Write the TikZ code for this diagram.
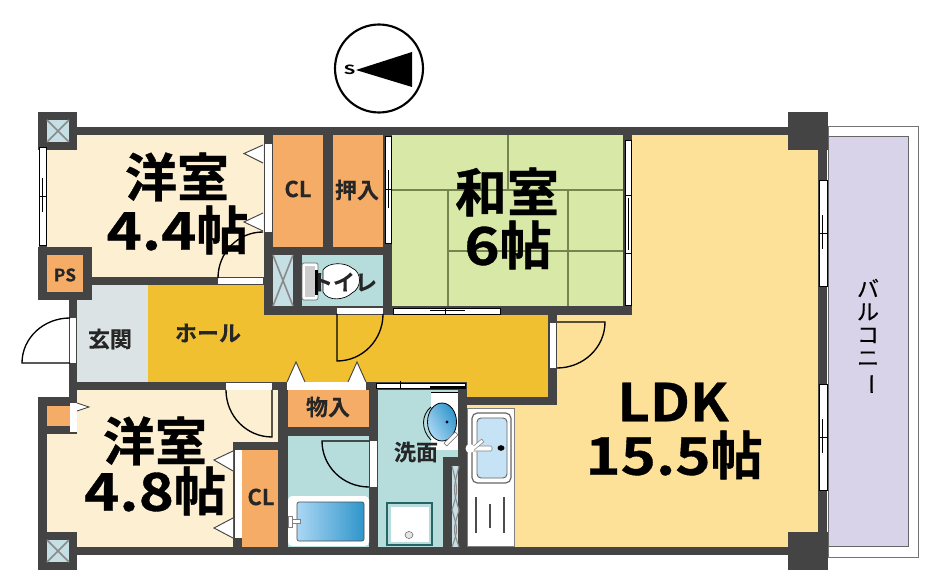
\documentclass[tikz,border=0pt]{standalone}
\usepackage{fontspec}
\usepackage{graphicx}
\setmainfont{Noto Sans CJK JP}[BoldFont={Noto Sans CJK JP Bold}]
\newfontfamily\heavy{Noto Sans CJK JP Bold}[FakeBold=0.7]
\newfontfamily\heavywide{Noto Sans CJK JP Bold}[FakeBold=0.7,FakeStretch=1.15]
\newfontfamily\heavymid{Noto Sans CJK JP Bold}[FakeBold=0.7,FakeStretch=1.08]
\newfontfamily\semi{Noto Sans CJK JP Bold}[FakeBold=0.15]
\newfontfamily\balfont{Noto Sans CJK JP}[FakeBold=0.3]
\definecolor{wallc}{HTML}{444444}
\definecolor{cream}{HTML}{FDEFD2}
\definecolor{closet}{HTML}{F5AC66}
\definecolor{tatami}{HTML}{D8E8A6}
\definecolor{tatline}{HTML}{75854F}
\definecolor{ldkc}{HTML}{FDE199}
\definecolor{hallc}{HTML}{F0C030}
\definecolor{entry}{HTML}{DBE3E5}
\definecolor{wetc}{HTML}{B6DCDC}
\definecolor{shaft}{HTML}{C5DFE5}
\definecolor{balc}{HTML}{D9D3E9}
\definecolor{sinkc}{HTML}{C6E3F6}
\definecolor{gradlight}{HTML}{ABD7F4}
\definecolor{graddark}{HTML}{2F95CA}
\definecolor{xline}{HTML}{8A8A8A}
\tikzset{
  wall/.style={fill=wallc},
  win/.style={fill=white,draw=black,line width=0.6pt},
  plainwin/.style={fill=white},
  swing/.style={draw=black,line width=1pt},
  tri/.style={fill=white,draw=wallc,line width=0.7pt},
  tat/.style={draw=tatline,line width=1.5pt},
  big/.style={font=\fontsize{39}{44}\selectfont\heavy,align=center,inner sep=0pt},
  mid/.style={font=\fontsize{16.5}{19}\selectfont\semi,text=black!85,inner sep=0pt},
  shaftx/.style={draw=xline,line width=1.2pt},
}
\begin{document}
\begin{tikzpicture}[x=0.75pt,y=-0.75pt]
\useasboundingbox (0,0) rectangle (931,580);
\fill[white] (0,0) rectangle (931,580);
% balcony
\draw[draw=black!55,fill=white,line width=0.7pt] (828,126) rectangle (918,557);
\draw[draw=black!60,fill=balc,line width=0.7pt] (828,136) rectangle (908,546);
% room fills
\fill[cream] (47,135) rectangle (265,278);
\fill[cream] (75,388) rectangle (279,400);
\fill[cream] (47,400) rectangle (279,548);
\fill[tatami] (392,135) rectangle (625,307);
\fill[ldkc] (632,135) -- (819,135) -- (819,548) -- (467,548) -- (467,404) -- (557,404) -- (557,314) -- (632,314) -- cycle;
\fill[hallc] (148,285) -- (268,285) -- (268,314) -- (552,314) -- (552,398) -- (462,398) -- (462,383) -- (148,383) -- cycle;
\fill[entry] (75,285) rectangle (148,383);
\fill[closet] (272,135) rectangle (384,248);
\fill[wetc] (300,255) rectangle (384,307);
\fill[shaft] (272,255) rectangle (294,307);
\fill[closet] (240,449) rectangle (279,548);
\fill[closet] (287,390) rectangle (370,428);
\fill[wetc] (287,435) rectangle (370,548);
\fill[wetc] (377,390) rectangle (459,548);
\fill[shaft] (451,465) rectangle (460,548);
\fill[closet] (47,405) rectangle (70,427);
\fill[closet] (47,255) rectangle (83,292);
% tatami lines
\draw[tat] (508,135) -- (508,190) (392,190.5) -- (625,190.5) (448,190.5) -- (448,307)
  (448,251) -- (625,251) (568,190.5) -- (568,307);
% walls
\fill[wall] (77,127) rectangle (790,135);
\fill[wall] (39,147) rectangle (47,247);
\fill[wall] (264,127) rectangle (273,315);
\fill[wall] (323,127) rectangle (333,250);
\fill[wall] (383,127) rectangle (392,315);
\fill[wall] (623,127) rectangle (632,315);
\fill[wall] (264,247) rectangle (392,255);
\fill[wall] (293,255) rectangle (302,310);
\fill[wall] (264,306) rectangle (557,315);
\fill[wall] (92,277) rectangle (264,285);
\fill[wall] (557,306.5) rectangle (632,315);
\fill[wall] (548,315) rectangle (557,405);
\fill[wall] (467,397) rectangle (557,405);
\fill[wall] (818,135) rectangle (827,535);
\fill[wall] (514,547) rectangle (790,555);
\fill[wall] (69,300) rectangle (77,400);
\fill[wall] (69,382) rectangle (467,390);
\fill[wall] (38,397) rectangle (47,535);
\fill[wall] (77,547) rectangle (514,555);
\fill[wall] (233,442) rectangle (288,450);
\fill[wall] (233,442) rectangle (242,555);
\fill[wall] (278,382) rectangle (288,555);
\fill[wall] (288,427) rectangle (370,436);
\fill[wall] (369,382) rectangle (378,555);
\fill[wall] (458,382) rectangle (467,555);
\fill[wall] (443,457) rectangle (467,466);
\fill[wall] (443,457) rectangle (452,555);
% corner pillars
\fill[wall] (38,112) rectangle (77,150);
\fill[shaft] (47,120) rectangle (69,142);
\draw[shaftx] (47,120) -- (69,142) (69,120) -- (47,142);
\fill[wall] (38,532) rectangle (77,570);
\fill[shaft] (47,540) rectangle (69,562);
\draw[shaftx] (47,540) -- (69,562) (69,540) -- (47,562);
\fill[wall] (788,112) rectangle (828,150);
\fill[wall] (788,532) rectangle (828,570);
% PS and lower small shaft
\fill[wall] (38,247) rectangle (92,255);
\fill[wall] (38,292) rectangle (92,300);
\fill[wall] (38,247) rectangle (47,300);
\fill[wall] (83,247) rectangle (92,300);
\fill[wall] (38,397) rectangle (77,406);
\fill[wall] (38,426) rectangle (77,434);
% shaft crosses
\draw[shaftx] (273,255) -- (293,306) (293,255) -- (273,306);
\draw[shaftx,line width=0.8pt] (452,466) .. controls (458,490) .. (452,510) .. controls (458,530) .. (452,547);
\draw[shaftx,line width=0.8pt] (459,466) .. controls (453,490) .. (459,510) .. controls (453,530) .. (459,547);
% windows
\draw[win] (39.5,147) rectangle (46,245); \draw[line width=0.5pt] (39.5,196) -- (46,196) (42.5,178) -- (42.5,212);
\draw[win] (385,136) rectangle (391,243); \draw[line width=0.5pt] (385,189) -- (391,189) (388,170) -- (388,208);
\draw[win] (625.5,140) rectangle (631,305); \draw[line width=0.5pt] (625.5,195) -- (631,195) (625.5,253) -- (631,253) (628,198) -- (628,250);
\draw[win] (819,180) rectangle (827,286); \draw[line width=0.5pt] (819,233) -- (827,233) (822.5,215) -- (822.5,249);
\draw[win] (819,384) rectangle (827,490); \draw[line width=0.5pt] (819,437) -- (827,437) (822.5,419) -- (822.5,453);
\draw[win] (393,308.5) rectangle (500,314); \draw[line width=0.5pt] (445,308.5) -- (445,314) (430,310.5) -- (465,310.5);
\draw[win] (376,383) rectangle (465,388); \draw[line width=0.5pt] (400,381) -- (400,389);
\fill[plainwin] (430,383.7) rectangle (464,387.3);
\fill[black] (430,386) rectangle (465,388);
% plain white door openings
\fill[plainwin] (264.5,144) rectangle (272,232);
\fill[plainwin] (218,278) rectangle (263,284);
\fill[plainwin] (70,318) rectangle (76,363);
\fill[plainwin] (70,403) rectangle (77,432);
\fill[plainwin] (226,383) rectangle (272,390);
\fill[plainwin] (235,450) rectangle (242,538);
\fill[plainwin] (287,382) rectangle (366,390);
\fill[plainwin] (337,308) rectangle (383,314);
\fill[plainwin] (550,323) rectangle (556,368);
\fill[plainwin] (369.5,441) rectangle (377,487);
% door swings
\draw[swing] (218,278) .. controls (218,252.6) and (238,232) .. (263,232);
\draw[swing] (70,363) -- (22,363) .. controls (22,338) and (43.5,318) .. (70,318);
\draw[swing] (272,390) -- (272,437) .. controls (246.6,437) and (226,416) .. (226,390);
\draw[swing] (337,314) -- (337,361) .. controls (362.4,361) and (383,340) .. (383,314);
\draw[swing] (557,322) -- (605,322) .. controls (605,347.4) and (583.5,368) .. (557,368);
\draw[swing] (369,441) -- (322,441) .. controls (322,466.4) and (343,487) .. (369,487);
% folding door triangles
\draw[tri] (263,145) -- (244,153.5) -- (263,163);
\draw[tri] (263,213) -- (244,222) -- (263,231);
\draw[tri] (233,451) -- (214,460) -- (233,471);
\draw[tri] (233,518) -- (214,528) -- (233,538);
\draw[tri] (77,403) -- (89,407) -- (77,411);
\draw[tri] (287,382) -- (296,362) -- (305,382);
\draw[tri] (348,382) -- (357,362) -- (366,382);
% toilet
\draw[fill=white,draw=black!60,line width=0.5pt,rounded corners=1.5pt] (302,263) rectangle (318,300);
\fill[black!20] (305,266) rectangle (315,297);
\fill[black] (315,270) rectangle (318,295);
\draw[fill=white,draw=black,line width=0.5pt] (323,270) .. controls (328,262) and (345,262) .. (352,268)
  .. controls (362,272) and (362,288) .. (352,293) .. controls (345,300) and (328,302) .. (323,292) -- cycle;
% bath
\fill[white,rounded corners=3pt] (288,496) rectangle (369,546);
\draw[draw=black!70,line width=0.5pt,left color=gradlight,right color=graddark,rounded corners=1.5pt] (297,502) rectangle (364,541);
\draw[fill=white,draw=black!50,line width=0.4pt] (288,516) rectangle (292,527);
\draw[fill=white,draw=black!50,line width=0.4pt] (292,519.5) rectangle (300,523);
% basin
\fill[white] (431,392) rectangle (458,450);
\draw[draw=black,line width=0.5pt] (431,392) -- (458,392);
\draw[draw=black,line width=0.6pt] (431,407) .. controls (421,415) and (421,430) .. (431,440);
\draw[draw=black,line width=0.6pt,top color=graddark,bottom color=gradlight,shading angle=-60] (442,422) ellipse [x radius=14.5,y radius=19];
\fill[black!80!blue] (447,422) circle (1.6);
\draw[fill=white,draw=black!60,line width=0.4pt,rotate around={45:(451,439)}] (443,437) rectangle (459,441);
% shower pan
\draw[draw=black!30!teal!70!gray,fill=wetc,line width=0.8pt] (387,503) rectangle (432,545);
\fill[white] (391,507) rectangle (429,542);
\draw[fill=black!10,draw=black!60,line width=0.4pt] (409,535) ellipse [x radius=4,y radius=3.5];
% kitchen
\draw[fill=white,draw=black!50,line width=0.7pt] (467,408) rectangle (514,546);
\draw[fill=white,draw=black!60,line width=0.9pt,rounded corners=4pt] (472,413) rectangle (511,483);
\draw[fill=sinkc,draw=black!60,line width=0.7pt,rounded corners=3pt] (477,418) rectangle (507,478);
\fill[black] (501,448) ellipse [x radius=3.5,y radius=2.8];
\draw[fill=white,draw=black!50,line width=0.4pt,rounded corners=1pt] (470,446) rectangle (492,451);
\draw[fill=white,draw=black!50,line width=0.4pt,rotate around={40:(473,449)}] (473,447) rectangle (486,450.5);
\fill[white] (470,448.5) circle (4.5);
\draw[draw=black!70,line width=1.3pt] (476,497) -- (476,533) (490,504) -- (490,528) (504,497) -- (504,533);
% compass
\draw[line width=1.6pt,fill=white] (379,68.5) circle [radius=44];
\fill[black] (356,70) -- (412,52) -- (412,87) -- cycle;
\node[xscale=1.5,inner sep=0pt,font=\fontsize{9.5}{11}\selectfont\bfseries] (north) at (349.5,69.5) {S};
% labels
\node[big] (r1) at (177,177) {洋室};
\node[big] (r1b) at (177.5,230) {{\heavywide 4.4}帖};
\node[big] (r2) at (507,192) {和室};
\node[big] (r2b) at (508,245) {{\heavywide 6}帖};
\node[big] (r3) at (155,441) {洋室};
\node[big] (r3b) at (155,491) {{\heavywide 4.8}帖};
\node[big] (r4) at (673,402) {{\heavymid LDK}};
\node[big] (r4b) at (674,455) {{\heavywide 15.5}帖};
\node[mid] (cl1) at (298,189) {CL};
\node[mid] (cl2) at (261,497) {CL};
\node[mid] (oshi) at (357,190) {押入};
\node[mid] (toi) at (344,282) {トイレ};
\node[mid,font=\fontsize{13}{15}\selectfont\semi] (ps) at (65,275) {PS};
\node[mid] (gen) at (110,339) {玄関};
\node[mid] (hall) at (208,333) {ホール};
\node[mid] (mono) at (328,407) {物入};
\node[mid] (sen) at (416,452) {洗面};
\node[font=\fontsize{16.5}{17.25}\selectfont\balfont,align=center,inner sep=0pt] (bal) at (868,335.5) {バ\\ル\\コ\\ニ\\\raisebox{0pt}[0.85em][0.15em]{\rotatebox[origin=c]{-90}{ー}}};
\end{tikzpicture}
\end{document}
